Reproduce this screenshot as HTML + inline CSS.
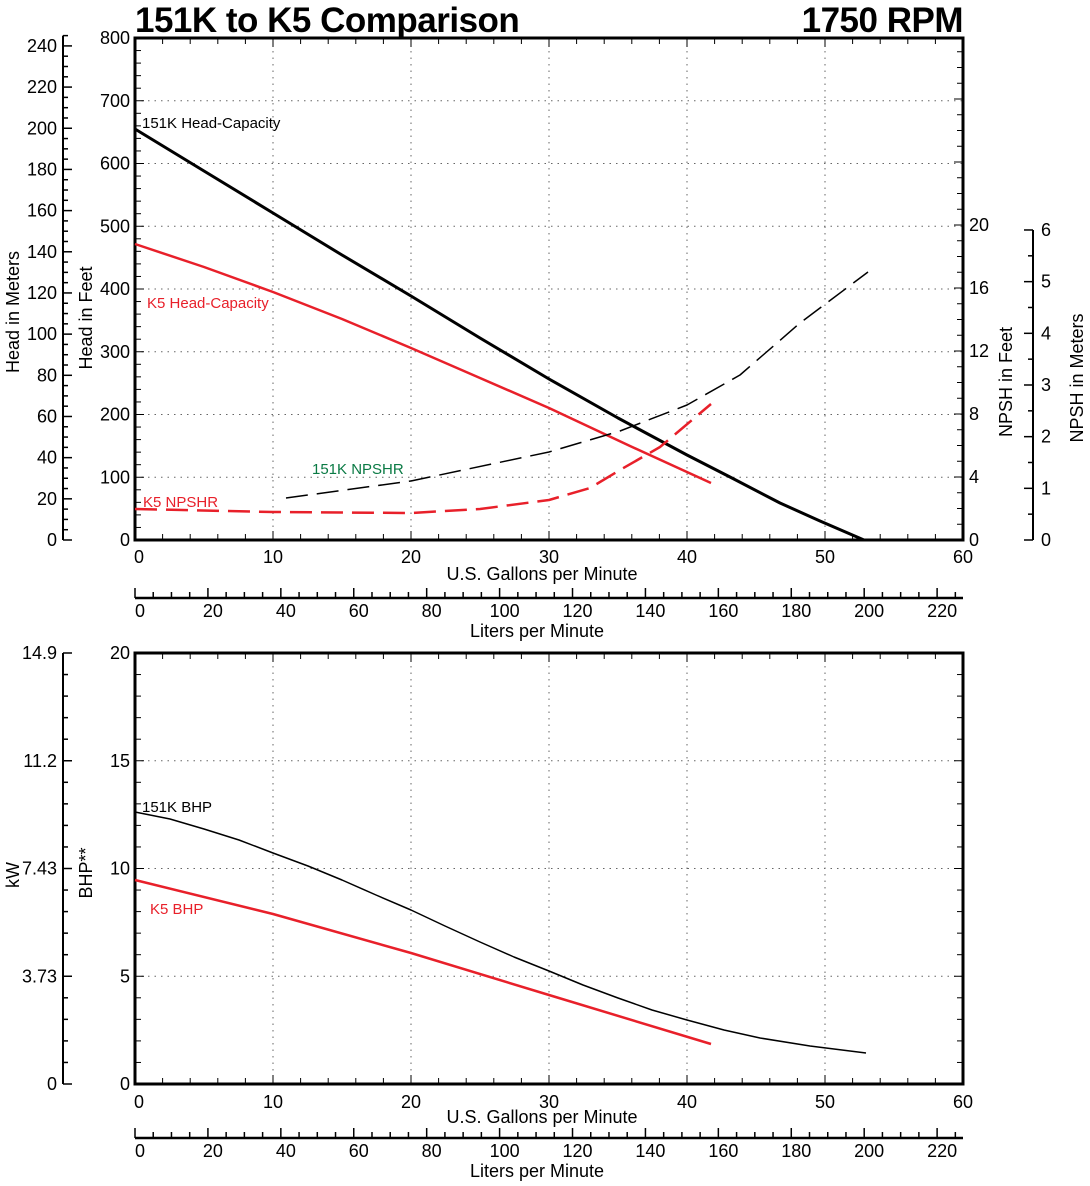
<!DOCTYPE html>
<html><head><meta charset="utf-8"><style>
body{margin:0;background:#fff}
svg{display:block;font-family:"Liberation Sans",Arial,sans-serif}
</style></head><body>
<svg id="s" width="1090" height="1186" viewBox="0 0 1090 1186" xmlns="http://www.w3.org/2000/svg"></svg>
<script>
var o=[];
function L(x1,y1,x2,y2,w,c,d){o.push('<line x1="'+x1+'" y1="'+y1+'" x2="'+x2+'" y2="'+y2+'" stroke="'+(c||'#000')+'" stroke-width="'+(w||1)+'"'+(d?' stroke-dasharray="'+d+'"':'')+'/>');}
function T(x,y,t,a,s,c,ex){o.push('<text x="'+x+'" y="'+y+'" font-size="'+(s||18)+'" text-anchor="'+(a||'middle')+'" fill="'+(c||'#000')+'" '+(ex||'')+'>'+t+'</text>');}
function P(pts,w,c,d){o.push('<path d="M'+pts.map(p=>p.join(',')).join(' L')+'" fill="none" stroke="'+c+'" stroke-width="'+w+'" stroke-linejoin="round"'+(d?' stroke-dasharray="'+d+'"':'')+'/>');}
var X0=135,X1=963,gx=g=>X0+g*13.8;
var TY0=540,TY1=38,fy=f=>TY0-f*0.6275;
for(var g=10;g<60;g+=10)L(gx(g),TY1,gx(g),TY0,1,'#666','1.5,5');
for(var f=100;f<800;f+=100)L(X0,fy(f),X1,fy(f),1,'#666','1.5,5');
for(var g=0;g<=60;g+=2){var l=g%10==0?9:6;L(gx(g),TY0,gx(g),TY0-l,1);L(gx(g),TY1,gx(g),TY1+l,1);}
for(var f=0;f<=800;f+=20){var l=f%100==0?9:6;L(X0,fy(f),X0+l,fy(f),1);if(f%100==0)T(X0-5,fy(f)+6,f,'end');}
var ny=v=>540-v*15.75;
for(var v=0;v<=31;v++){var y=ny(v);if(y<TY1)break;var l=v%4==0?9:6;L(X1,y,X1-l,y,1);if(v%4==0&&v<=20)T(X1+6,y+6,v,'start');}
o.push('<rect x="'+X0+'" y="'+TY1+'" width="'+(X1-X0)+'" height="'+(TY0-TY1)+'" fill="none" stroke="#000" stroke-width="3"/>');
for(var g=0;g<=60;g+=10)T(gx(g)+(g==0?4:0),TY0+23,g);
T(542,580,'U.S. Gallons per Minute');
var my=m=>540-m*3.2808*0.6275;
L(63,my(0),63,my(245),2);
for(var m=0;m<=245;m+=5){var l=m%20==0?9:5;L(63,my(m),63+l,my(m),1.5);if(m%20==0)T(57,my(m)+6,m,'end');}
T(0,0,'Head in Meters','middle',18,'#000','transform="translate(19,312) rotate(-90)"');
T(0,0,'Head in Feet','middle',18,'#000','transform="translate(92,318) rotate(-90)"');
var nmy=m=>540-m*51.67;
L(1033,540,1033,230,2);
for(var m=0;m<=6;m+=0.5){var l=m%1==0?9:5;L(1033,nmy(m),1033-l,nmy(m),1.5);if(m%1==0)T(1041,nmy(m)+6,m,'start');}
T(0,0,'NPSH in Feet','middle',18,'#000','transform="translate(1012,382) rotate(-90)"');
T(0,0,'NPSH in Meters','middle',18,'#000','transform="translate(1083,378) rotate(-90)"');
function lit(y){L(X0,y,X1,y,2.5);var lx=l=>X0+l/3.785*13.8;for(var l=0;l<=225;l+=5){var t=l%20==0?10:6;L(lx(l),y,lx(l),y-t,1.5);if(l%20==0)T(lx(l)+5,y+19,l);}T(537,y+39,'Liters per Minute');}
lit(598);
T(135,32,'151K to K5 Comparison','start',35,'#000','font-weight="bold" letter-spacing="-0.5"');
T(963,32,'1750 RPM','end',35,'#000','font-weight="bold" letter-spacing="-0.5"');
P([[135,129],[204,171],[273,213],[342,255],[411,296],[480,338],[549,379],[618,418],[687,455],[730,477],[780,503],[820,521],[864,540]],3,'#000');
P([[135,244],[204,267],[273,292],[342,319],[411,348],[480,378],[549,408],[630,446],[711,483]],2.5,'#e8202a');
P([[286,498],[411,481],[549,452],[620,431],[687,405],[740,375],[800,323],[868,272]],1.5,'#000','22,9');
P([[135,509],[273,512],[411,513],[480,509],[549,500],[590,488],[620,470],[660,447],[711,404]],2.5,'#e8202a','22,9');
T(142,128,'151K Head-Capacity','start',15);
T(147,308,'K5 Head-Capacity','start',15,'#e8202a');
T(312,474,'151K NPSHR','start',15,'#0a7a44');
T(143,507,'K5 NPSHR','start',15,'#e8202a');
var BY0=1084,BY1=653,by=b=>BY0-b*21.55;
for(var g=10;g<60;g+=10)L(gx(g),BY1,gx(g),BY0,1,'#666','1.5,5');
for(var b=5;b<20;b+=5)L(X0,by(b),X1,by(b),1,'#666','1.5,5');
for(var g=0;g<=60;g+=2){var l=g%10==0?9:6;L(gx(g),BY0,gx(g),BY0-l,1);L(gx(g),BY1,gx(g),BY1+l,1);}
for(var b=0;b<=20;b++){var l=b%5==0?9:6;L(X0,by(b),X0+l,by(b),1);L(X1,by(b),X1-l,by(b),1);if(b%5==0)T(X0-5,by(b)+6,b,'end');}
o.push('<rect x="'+X0+'" y="'+BY1+'" width="'+(X1-X0)+'" height="'+(BY0-BY1)+'" fill="none" stroke="#000" stroke-width="3"/>');
for(var g=0;g<=60;g+=10)T(gx(g)+(g==0?4:0),BY0+24,g);
T(542,1123,'U.S. Gallons per Minute');
L(63,BY0,63,BY1,2);
var kl=['0','3.73','7.43','11.2','14.9'];
for(var b=0;b<=20;b++){var l=b%5==0?9:5;L(63,by(b),63+l,by(b),1.5);if(b%5==0)T(57,by(b)+6,kl[b/5],'end');}
T(0,0,'kW','middle',18,'#000','transform="translate(19,875) rotate(-90)"');
T(0,0,'BHP**','middle',18,'#000','transform="translate(92,873) rotate(-90)"');
lit(1138);
P([[135,812],[170,819],[204,829],[239,840],[273,853],[308,866],[342,880],[376,895],[411,910],[445,926],[480,942],[514,957],[549,971],[583,985],[618,998],[652,1010],[687,1020],[724,1030],[760,1038],[810,1046],[866,1053]],1.5,'#000');
P([[135,880],[273,914],[411,953],[549,995],[711,1044]],2.5,'#e8202a');
T(142,812,'151K BHP','start',15);
T(150,914,'K5 BHP','start',15,'#e8202a');
document.getElementById('s').innerHTML=o.join('');
</script>
</body></html>
